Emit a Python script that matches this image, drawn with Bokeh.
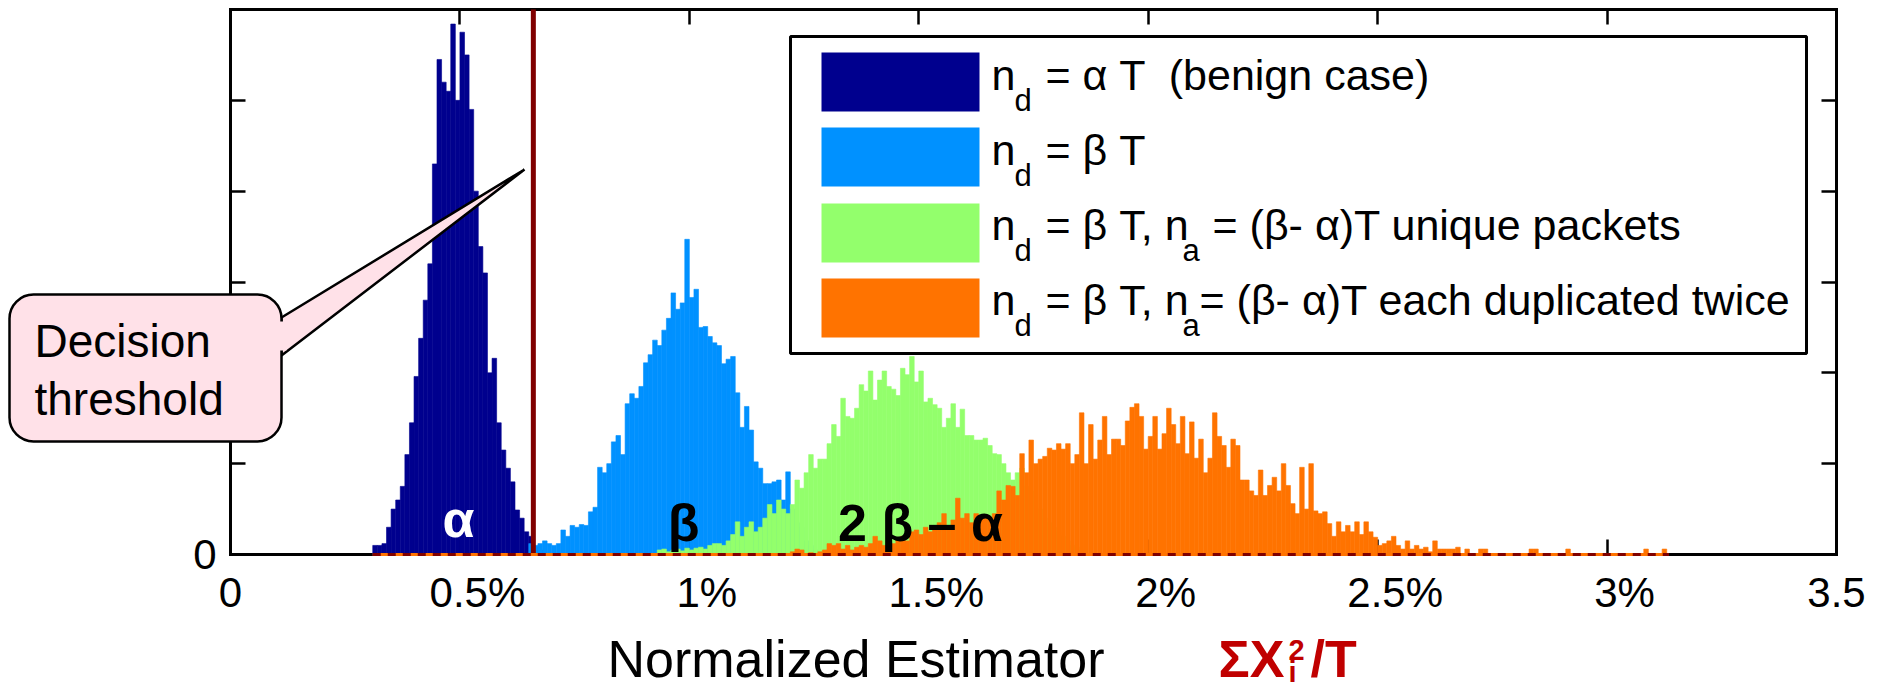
import numpy as np
from bokeh.plotting import figure
from bokeh.models import (LinearAxis, FixedTicker, BoxAnnotation, PolyAnnotation,
                          Label, Arrow, Range1d)
from bokeh.embed import file_html
from bokeh.resources import INLINE

# ------------------------------------------------------------------ data
BIN = 0.01   # histogram bin width (percent)

ALPHA_START = 0.31
ALPHA_COUNTS = [0.1, 0.1, 0.12, 0.3, 0.5, 0.6, 0.75, 1.1, 1.45, 1.96,
                2.38, 2.8, 3.2, 4.3, 5.45, 5.2, 5.1, 5.84, 5.0, 5.75,
                5.5, 4.9, 4.0, 3.39, 3.1, 2.0, 2.16, 1.45, 1.15, 0.95,
                0.8, 0.49, 0.4, 0.25, 0.2, 0.08, 0.05]

BETA_START = 0.65
BETA_COUNTS = [0.12, 0.1, 0.12, 0.15, 0.12, 0.1, 0.12, 0.27, 0.2, 0.32,
               0.3, 0.33, 0.32, 0.47, 0.52, 0.96, 0.9, 1.0, 1.24, 1.31,
               1.1, 1.66, 1.77, 1.72, 1.85, 2.11, 2.2, 2.36, 2.3, 2.47,
               2.6, 2.88, 2.7, 2.77, 3.47, 2.83, 2.92, 2.5, 2.51, 2.4,
               2.33, 2.3, 2.1, 2.15, 2.18, 1.78, 1.4, 1.63, 1.37, 1.02,
               0.95, 0.78, 0.78, 0.8, 0.82, 0.6, 0.91, 0.5, 0.35, 0.3,
               0.15, 0.1, 0.05]

GREEN_START = 0.93
GREEN_COUNTS = [0.05, 0.06, 0.03, 0.05, 0.06, 0.04, 0.07, 0.05, 0.07, 0.08,
                0.06, 0.1, 0.12, 0.12, 0.1, 0.15, 0.22, 0.36, 0.2, 0.3,
                0.36, 0.25, 0.3, 0.4, 0.55, 0.45, 0.6, 0.5, 0.45, 0.55,
                0.82, 0.73, 0.9, 1.1, 0.95, 1.05, 1.05, 1.22, 1.43, 1.3,
                1.72, 1.52, 1.5, 1.61, 1.87, 1.8, 2.02, 1.7, 1.92, 2.02,
                1.85, 1.82, 1.75, 2.05, 1.98, 2.18, 1.9, 2.02, 1.68, 1.72,
                1.65, 1.61, 1.4, 1.5, 1.66, 1.4, 1.6, 1.31, 1.31, 1.26,
                1.26, 1.28, 1.2, 1.11, 1.1, 1.0, 0.9, 0.82, 0.9, 0.95,
                0.75, 0.7, 0.6, 0.5, 0.4, 0.35, 0.3, 0.25, 0.2, 0.15,
                0.1, 0.08, 0.05]

ORANGE_START = 1.22
ORANGE_COUNTS = [0.03, 0.06, 0.05, 0.0, 0.02, 0.0, 0.03, 0.05, 0.12, 0.1,
                 0.12, 0.06, 0.1, 0.05, 0.08, 0.1, 0.08, 0.12, 0.2, 0.15,
                 0.1, 0.27, 0.12, 0.18, 0.2, 0.15, 0.25, 0.27, 0.22, 0.3,
                 0.25, 0.28, 0.35, 0.45, 0.3, 0.38, 0.62, 0.4, 0.45, 0.35,
                 0.45, 0.42, 0.4, 0.38, 0.45, 0.7, 0.6, 0.76, 0.75, 0.65,
                 1.11, 0.9, 1.26, 1.0, 1.05, 1.08, 1.17, 1.15, 1.22, 1.16,
                 1.22, 1.0, 1.1, 1.56, 1.0, 1.43, 1.05, 1.26, 1.52, 1.1,
                 1.27, 1.27, 1.2, 1.47, 1.62, 1.66, 1.52, 1.16, 1.3, 1.52,
                 1.16, 1.33, 1.61, 1.43, 1.22, 1.52, 1.11, 1.46, 1.06, 1.27,
                 0.9, 1.06, 1.56, 1.3, 1.2, 0.96, 1.27, 1.2, 0.82, 0.82,
                 0.7, 0.65, 0.93, 0.65, 0.76, 0.85, 0.7, 1.0, 0.76, 0.56,
                 0.45, 0.96, 0.5, 1.0, 0.48, 0.45, 0.47, 0.34, 0.2, 0.36,
                 0.25, 0.32, 0.25, 0.36, 0.22, 0.36, 0.25, 0.19, 0.1, 0.12,
                 0.15, 0.2, 0.1, 0.06, 0.15, 0.06, 0.1, 0.06, 0.08, 0.03,
                 0.15, 0.06, 0.06, 0.06, 0.06, 0.08, 0.0, 0.06, 0.0, 0.0,
                 0.06, 0.06, 0.0, 0.0, 0.0, 0.0, 0.0, 0.0, 0.0, 0.0,
                 0.0, 0.06, 0.06, 0.0, 0.0, 0.0, 0.0, 0.0, 0.0, 0.06,
                 0.0, 0.0, 0.0, 0.0, 0.0, 0.0, 0.0, 0.0, 0.0, 0.0,
                 0.0, 0.0, 0.0, 0.0, 0.0, 0.0, 0.06, 0.0, 0.0, 0.0,
                 0.06]

THRESHOLD = 0.66
ZERO_LINE = [0.31, 3.135]          # extent of the dashed zero line

X_TICKS = [0, 0.5, 1, 1.5, 2, 2.5, 3, 3.5]
X_TICK_LABELS = ["0", "0.5%", "1%", "1.5%", "2%", "2.5%", "3%", "3.5"]
Y_TICKS = [0, 1, 2, 3, 4, 5, 6]
Y_TICK_LABELS = ["0", "", "", "", "", "", ""]

LEGEND_LABELS = [
    ["n", "d", "= \u03b1 T \u00a0(benign case)"],
    ["n", "d", "= \u03b2 T"],
    ["n", "d", "= \u03b2 T, n", "a", "= (\u03b2- \u03b1)T unique packets"],
    ["n", "d", "= \u03b2 T, n", "a", "= (\u03b2- \u03b1)T each duplicated twice"],
]

# ------------------------------------------------------------------ style
NAVY, SKY, LIME, ORANGE = "#00008E", "#0091FF", "#93FF6C", "#FF7300"
COLORS = [NAVY, SKY, LIME, ORANGE]
DARKRED = "#800000"
PINK = "#FFE1E8"
RED = "#C00000"
FONT = "Liberation Sans"
BASELINE_FIX = 0.37      # em correction so that given y is the text baseline
PCT_PAD = "\u2007\u2008"  # the number sits on the tick, the % sticks out right

X0, X1, Y0, Y1 = 0.0, 3.5, 0.0, 6.0
W, H = 1881, 691
FR_L, FR_R, FR_T, FR_B = 230, 1836, 9, 554      # axes box in canvas pixels
PXX = (FR_R - FR_L) / (X1 - X0)
PXY = (FR_B - FR_T) / (Y1 - Y0)


def dx(px):
    return X0 + (px - FR_L) / PXX


def dy(py):
    return Y0 + (FR_B - py) / PXY


# the drawing area covers the whole canvas; the axes are pinned to the box
p = figure(width=W, height=H, output_backend="svg", toolbar_location=None,
           x_range=Range1d(dx(0), dx(W)), y_range=Range1d(dy(H), dy(0)),
           x_axis_type=None, y_axis_type=None,
           min_border_left=0, min_border_right=0, min_border_top=0, min_border_bottom=0)
p.outline_line_color = None
p.background_fill_color = "white"
p.border_fill_color = "white"


def add_axis(place, loc, bounds, ticks, labels, show):
    ax = LinearAxis(ticker=FixedTicker(ticks=ticks, minor_ticks=[]),
                    fixed_location=loc, bounds=bounds)
    ax.axis_line_color = "black"
    ax.axis_line_width = 3
    ax.axis_line_cap = "square"
    ax.major_tick_in = 15
    ax.major_tick_out = 0
    ax.major_tick_line_width = 2.5
    ax.major_tick_line_color = "black"
    ax.minor_tick_in = 0
    ax.minor_tick_out = 0
    if show:
        ax.major_label_overrides = {t: (PCT_PAD + l if l.endswith("%") else l)
                                    for t, l in zip(ticks, labels)}
        ax.major_label_text_font = FONT
        ax.major_label_text_font_size = "42px"
        ax.major_label_text_color = "black"
        ax.major_label_standoff = 14
    else:
        ax.major_label_overrides = {t: "" for t in ticks}
        ax.major_label_text_font_size = "0px"
        ax.major_label_standoff = 0
    p.add_layout(ax, place)


add_axis("below", Y0, (X0, X1), X_TICKS, X_TICK_LABELS, True)
add_axis("above", Y1, (X0, X1), X_TICKS, X_TICK_LABELS, False)
add_axis("left", X0, (Y0, Y1), Y_TICKS, Y_TICK_LABELS, True)
add_axis("right", X1, (Y0, Y1), Y_TICKS, Y_TICK_LABELS, False)

# ------------------------------------------------------------------ histograms
for start, counts, color in [(ALPHA_START, ALPHA_COUNTS, NAVY),
                             (BETA_START, BETA_COUNTS, SKY),
                             (GREEN_START, GREEN_COUNTS, LIME),
                             (ORANGE_START, ORANGE_COUNTS, ORANGE)]:
    centers = start + BIN * (np.arange(len(counts)) + 0.5)
    p.vbar(x=centers, top=counts, bottom=0, width=BIN,
           fill_color=color, line_color=color, line_width=0.6, level="overlay")

# threshold line (spans the axes box)
p.segment(x0=[THRESHOLD], y0=[Y0], x1=[THRESHOLD], y1=[Y1],
          line_color=DARKRED, line_width=5, level="overlay")

# dashed zero line
p.add_layout(Arrow(x_start=ZERO_LINE[0], y_start=0, x_end=ZERO_LINE[1], y_end=0, end=None,
                   line_color=ORANGE, line_width=3, level="overlay"))
p.add_layout(Arrow(x_start=ZERO_LINE[0], y_start=0, x_end=ZERO_LINE[1], y_end=0, end=None,
                   line_color=DARKRED, line_width=3, line_dash="8 7", level="overlay"))


def label(xpx, base_px, text, size, color="black", bold=False, align="left"):
    y = dy(base_px - BASELINE_FIX * size)
    p.add_layout(Label(x=dx(xpx), y=y, text=text, text_font=FONT,
                       text_font_size=f"{size}px", text_color=color,
                       text_font_style="bold" if bold else "normal",
                       text_align=align, text_baseline="alphabetic", level="overlay"))


# distribution labels
label(458, 538, "\u03b1", 52, "white", True, "center")
label(683, 542, "\u03b2", 52, "black", True, "center")
label(920, 542, "2 \u03b2 \u2013 \u03b1", 52, "black", True, "center")

# ------------------------------------------------------------------ legend
p.add_layout(BoxAnnotation(left=dx(790), right=dx(1806), top=dy(36), bottom=dy(353),
                           fill_color="white", fill_alpha=1, line_color="black",
                           line_alpha=1, line_width=3, level="overlay"))
ROW_TOP = [52, 127, 203, 278]
ROW_H = 59
ROW_BASE = [90, 165, 240, 315]
for i, (color, parts) in enumerate(zip(COLORS, LEGEND_LABELS)):
    p.add_layout(BoxAnnotation(left=dx(821), right=dx(979), top=dy(ROW_TOP[i]),
                               bottom=dy(ROW_TOP[i] + ROW_H), fill_color=color,
                               fill_alpha=1, line_color=None, level="overlay"))
    b = ROW_BASE[i]
    label(991, b, parts[0], 43)
    label(1014, b + 21, parts[1], 31)
    label(1045, b, parts[2], 43)
    if len(parts) > 3:
        label(1182, b + 21, parts[3], 31)
        label(1212 if i == 2 else 1199, b, parts[4], 43)

# ------------------------------------------------------------------ callout
p.add_layout(PolyAnnotation(xs=[dx(281), dx(524), dx(281)], ys=[dy(317), dy(169), dy(355)],
                            fill_color=PINK, fill_alpha=1, line_color="black",
                            line_alpha=1, line_width=2.5, level="overlay"))
p.add_layout(BoxAnnotation(left=dx(9), right=dx(281), top=dy(294), bottom=dy(441),
                           border_radius=24, fill_color=PINK, fill_alpha=1,
                           line_color="black", line_alpha=1, line_width=2.5, level="overlay"))
p.add_layout(BoxAnnotation(left=dx(277), right=dx(286), top=dy(321), bottom=dy(350),
                           fill_color=PINK, fill_alpha=1, line_color=None, level="overlay"))
label(34, 358, "Decision", 46)
label(34, 416, "threshold", 46)

# ------------------------------------------------------------------ axis title
label(607, 678, "Normalized Estimator", 52)
label(1218, 678, "\u03a3X", 52, RED, True)
label(1288, 682, "i", 29, RED, True)
label(1288, 660, "2", 29, RED, True)
label(1310, 678, "/T", 52, RED, True)

open("out.html", "w").write(file_html(p, INLINE))
